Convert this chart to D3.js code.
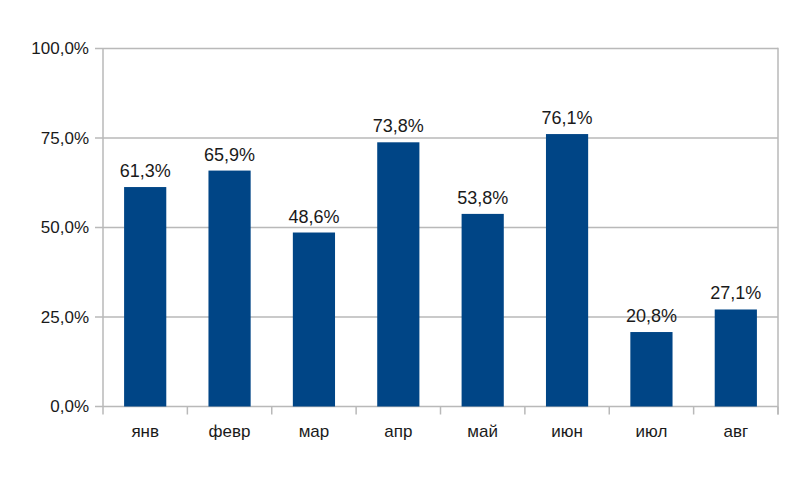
<!DOCTYPE html>
<html><head><meta charset="utf-8">
<script src="https://cdn.jsdelivr.net/npm/d3@7"></script>
<style>body{margin:0;background:#fff}svg{display:block}</style>
</head><body>
<svg id="c" width="800" height="479"></svg>
<script>
const categories = ["янв","февр","мар","апр","май","июн","июл","авг"];
const values = [61.3, 65.9, 48.6, 73.8, 53.8, 76.1, 20.8, 27.1];
const yTicks = [0, 25, 50, 75, 100];

(function () {
const svg = d3.select("#c");
const pL = 103, pR = 778, pT = 48.5, pB = 406.5;
const x = d3.scaleBand().domain(categories).range([pL, pR]).paddingInner(0.5).paddingOuter(0.25);
const y = d3.scaleLinear().domain([0, 100]).range([pB, pT]);
const fmt = v => d3.format(".1f")(v).replace(".", ",") + "%";
const gridC = "#b9b9b9";
const font = "'Liberation Sans', Arial, sans-serif";

svg.append("g").selectAll("line").data(yTicks).join("line")
  .attr("x1", pL - 8).attr("x2", pR)
  .attr("y1", d => y(d)).attr("y2", d => y(d))
  .attr("stroke", gridC).attr("stroke-width", 1.5);
svg.append("line").attr("x1", pL).attr("x2", pL).attr("y1", pT).attr("y2", pB)
  .attr("stroke", gridC).attr("stroke-width", 1.5);
svg.append("line").attr("x1", pR).attr("x2", pR).attr("y1", pT - 0.75).attr("y2", pB + 8)
  .attr("stroke", gridC).attr("stroke-width", 1.5);
const bounds = categories.map(c => x(c) - x.step() * 0.25).concat([pR]);
svg.append("g").selectAll("line").data(bounds).join("line")
  .attr("x1", d => d).attr("x2", d => d).attr("y1", pB).attr("y2", pB + 8)
  .attr("stroke", gridC).attr("stroke-width", 1.5);

svg.append("g").selectAll("text").data(yTicks).join("text")
  .attr("x", 89).attr("y", d => y(d)).attr("dy", "0.35em")
  .attr("text-anchor", "end").attr("font-family", font).attr("font-size", 17)
  .attr("fill", "#1a1a1a").text(d => fmt(d));

svg.append("g").selectAll("rect").data(values).join("rect")
  .attr("x", (d, i) => x(categories[i])).attr("width", x.bandwidth())
  .attr("y", d => y(d)).attr("height", d => y(0) - y(d))
  .attr("fill", "#004586");

svg.append("g").selectAll("text").data(values).join("text")
  .attr("x", (d, i) => x(categories[i]) + x.bandwidth() / 2)
  .attr("y", d => y(d) - 10)
  .attr("text-anchor", "middle").attr("font-family", font).attr("font-size", 18)
  .attr("fill", "#1a1a1a").text(d => fmt(d));

svg.append("g").selectAll("text").data(categories).join("text")
  .attr("x", d => x(d) + x.bandwidth() / 2).attr("y", 437)
  .attr("text-anchor", "middle").attr("font-family", font).attr("font-size", 17)
  .attr("fill", "#1a1a1a").text(d => d);
})();
</script>
</body></html>
